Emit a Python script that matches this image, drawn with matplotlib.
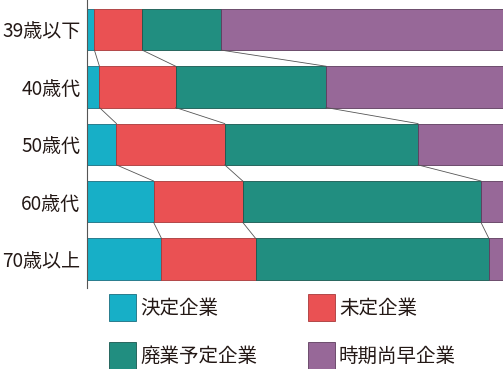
import matplotlib.pyplot as plt
from matplotlib.patches import Rectangle

plt.rcParams['font.family'] = ['Noto Sans CJK JP', 'DejaVu Sans']

# data (percent of companies per age group)
ages = ['39歳以下', '40歳代', '50歳代', '60歳代', '70歳以上']
decided = [1.9, 3.1, 7.2, 16.1, 18.0]
undecided = [11.5, 18.3, 26.0, 21.4, 22.6]
closing = [19.0, 36.1, 46.4, 57.2, 56.0]
too_early = [67.6, 42.5, 20.4, 5.3, 3.4]

series = [decided, undecided, closing, too_early]
names = ['決定企業', '未定企業', '廃業予定企業', '時期尚早企業']
colors = ['#17AFC7', '#EA5153', '#218E80', '#976898']
edges = ['#1a6f80', '#a8383a', '#17574f', '#5e3c5e']

W, H = 503, 369
fig = plt.figure(figsize=(W / 100, H / 100), dpi=100)
ax = fig.add_axes([86.5 / W, 1 - 288 / H, 1 - 86.5 / W, 288 / H])

bar_h = 0.72
ypos = list(range(len(ages)))
left = [0.0] * len(ages)
bounds = []
for vals, c, ec in zip(series, colors, edges):
    ax.barh(ypos, vals, left=left, height=bar_h, color=c,
            edgecolor=ec, linewidth=0.6)
    left = [l + v for l, v in zip(left, vals)]
    bounds.append(list(left))

# connecting lines between bars
for b in bounds[:-1]:
    for i in range(len(ages) - 1):
        ax.plot([b[i], b[i + 1]], [i + bar_h / 2, i + 1 - bar_h / 2],
                color='#555555', lw=0.6)

ax.set_xlim(0, 100)
ax.set_ylim(4.505, -0.514)
ax.set_yticks(ypos)
ax.set_yticklabels(ages, fontsize=13.7, color='#231815')
ax.tick_params(axis='y', length=0, pad=4.5)
ax.set_xticks([])
for s in ['top', 'right', 'bottom']:
    ax.spines[s].set_visible(False)
ax.spines['left'].set_color('#555555')
ax.spines['left'].set_linewidth(0.8)

# legend (2x2 grid)
sq_x = [109, 308]
sq_y = [294, 342]
for k, (n, c, ec) in enumerate(zip(names, colors, edges)):
    col, row = k % 2, k // 2
    x0, y0 = sq_x[col], sq_y[row]
    fig.patches.append(Rectangle((x0 / W, 1 - (y0 + 27) / H), 27 / W, 27 / H,
                                 transform=fig.transFigure, facecolor=c,
                                 edgecolor=ec, linewidth=0.6))
    fig.text((x0 + 31) / W, 1 - (y0 + 14) / H, n, fontsize=14,
             color='#231815', va='center', ha='left')

fig.savefig('out.png', dpi=100)
